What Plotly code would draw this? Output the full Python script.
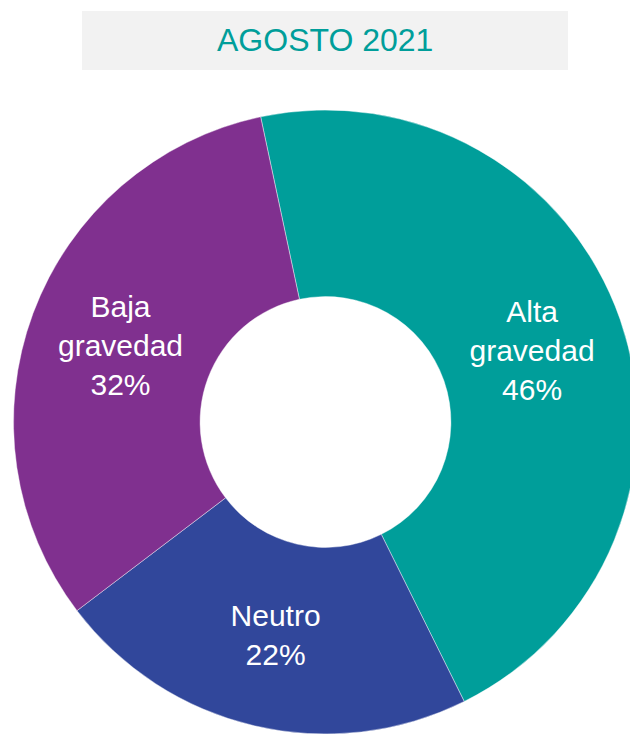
import plotly.graph_objects as go

title_text = "AGOSTO 2021"
labels = ["Alta<br>gravedad", "Neutro", "Baja<br>gravedad"]
values = [46, 22, 32]
colors = ["#009E9A", "#31479B", "#80308F"]

# page body has an 8px default margin, so the figure is laid out 8px in from the top-left
OFF = 8
W, H = 630, 726
cx, cy, r = 325.5 - OFF, 423 - OFF, 312

fig = go.Figure(go.Pie(
    labels=labels,
    values=values,
    sort=False,
    direction="clockwise",
    rotation=-12,
    hole=0.402,
    marker=dict(colors=colors, line=dict(color="rgba(255,255,255,0.6)", width=0.7)),
    texttemplate="%{label}<br>%{percent:.0%}",
    textposition="inside",
    insidetextorientation="horizontal",
    textfont=dict(family="Liberation Sans, Arial, sans-serif", size=30, color="white"),
    showlegend=False,
    hoverinfo="label+percent",
    domain=dict(x=[max(0, (cx - r) / W), min(1, (cx + r) / W)], y=[0, min(1, 2 * r / H)]),
))

fig.update_layout(
    width=W, height=H,
    margin=dict(l=0, r=0, t=0, b=0),
    paper_bgcolor="white",
    plot_bgcolor="white",
    uniformtext=dict(minsize=30, mode="show"),
    shapes=[dict(type="rect", xref="paper", yref="paper",
                 x0=(82 - OFF) / W, x1=(568 - OFF) / W,
                 y0=1 - (70 - OFF) / H, y1=1 - (11 - OFF) / H,
                 fillcolor="#F2F2F2", line=dict(width=0), layer="below")],
    annotations=[dict(text=title_text, xref="paper", yref="paper",
                      x=(325 - OFF) / W, y=1 - (40 - OFF) / H,
                      xanchor="center", yanchor="middle",
                      showarrow=False,
                      font=dict(family="Liberation Sans, Arial, sans-serif", size=32, color="#009E9A"))],
)

fig.write_html("out.html")
